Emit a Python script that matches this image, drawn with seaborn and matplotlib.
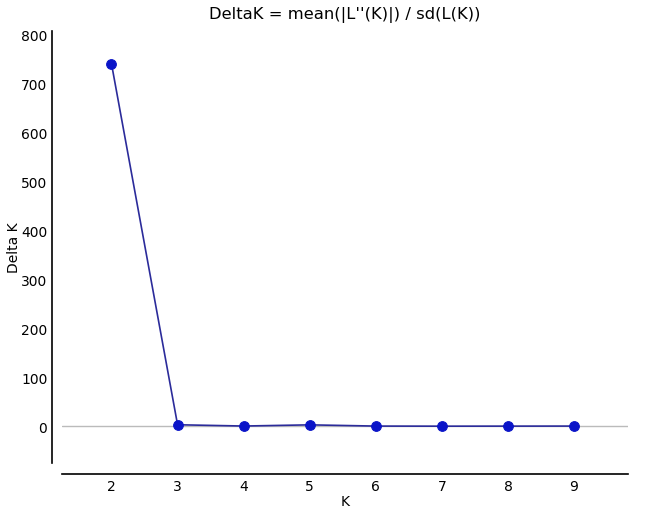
import numpy as np
import pandas as pd
import matplotlib
matplotlib.use("Agg")
import matplotlib.pyplot as plt
import seaborn as sns

# Delta K values per K (Evanno method)
k_values = [2, 3, 4, 5, 6, 7, 8, 9]
delta_k = [739.5, 3.2, 0.6, 3.0, 0.5, 0.3, 0.4, 0.5]

df = pd.DataFrame({"K": k_values, "DeltaK": delta_k})

sns.set_style("white")
plt.rcParams["font.family"] = ["DejaVu Sans"]

fig = plt.figure(figsize=(6.45, 5.1), dpi=100)
ax = fig.add_axes([0.096, 0.09, 0.878, 0.847])

ax.axhline(0, color="#bbbbbb", lw=1, zorder=1)
sns.lineplot(data=df, x="K", y="DeltaK", ax=ax, color="#2b2b9a", lw=1.2,
             marker="o", markersize=7, markerfacecolor="#0a14c8",
             markeredgecolor="#0a14c8", zorder=3)

ax.set_xlim(1.25, 9.82)
ax.set_ylim(-75, 806)
ax.set_xticks(k_values)
ax.set_yticks(range(0, 801, 100))
ax.tick_params(direction="in", length=3, width=0.8, labelsize=10, colors="black")
ax.set_xlabel("K", fontsize=10, labelpad=1, color="black")
ax.set_ylabel("Delta K", fontsize=10, labelpad=0, color="black")
ax.set_title("DeltaK = mean(|L''(K)|) / sd(L(K))", fontsize=11.8, pad=9.5, color="black")

sns.despine(ax=ax, offset={"left": 7, "bottom": 8})
for s in ["left", "bottom"]:
    ax.spines[s].set_color("black")
    ax.spines[s].set_linewidth(1.2)

fig.savefig("out.png", dpi=100)
